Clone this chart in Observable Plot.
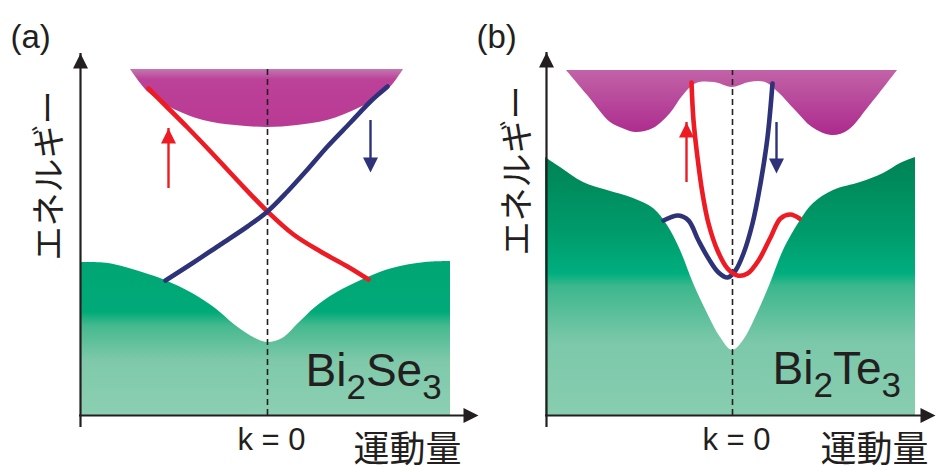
<!DOCTYPE html>
<html>
<head>
<meta charset="utf-8">
<script src="https://cdn.jsdelivr.net/npm/d3@7"></script>
<script src="https://cdn.jsdelivr.net/npm/@observablehq/plot@0.6"></script>
<style>
  body { margin: 0; background: #fff; }
  #fig { position: relative; width: 936px; height: 466px; overflow: hidden; background: #fff; }
  #fig svg { position: absolute; top: 0; }
</style>
</head>
<body>
<div id="fig"></div>
<script>
// ---------- common styling ----------
const INK = "#231f20";
const RED = "#ed1c24";
const BLUE = "#2e3279";
const LATIN = "'Liberation Sans', Arial, Helvetica, sans-serif";
const CJK = "'Noto Sans CJK JP', sans-serif";

// ---------- panel (a): Bi2Se3 ----------
// conduction band: lower edge (k, E); filled up to cbA_top
const cbA_k = [-1.37, -1.19, -0.97, -0.64, -0.32, 0, 0.30, 0.60, 0.93, 1.20, 1.36];
const cbA_E = [3.46, 3.23, 3.08, 2.95, 2.90, 2.88, 2.90, 2.95, 3.08, 3.25, 3.46];
const cbA_top = 3.46;
// valence band: upper edge, filled down to E = 0
const vbA_k = [-1.87, -1.59, -1.25, -1.02, -0.75, -0.52, -0.32, -0.12, 0, 0.15, 0.31, 0.48, 0.68, 0.98, 1.25, 1.58, 1.83];
const vbA_E = [1.53, 1.52, 1.43, 1.35, 1.22, 1.07, 0.90, 0.77, 0.73, 0.77, 0.92, 1.08, 1.22, 1.37, 1.47, 1.53, 1.54];
// surface Dirac cone: spin-up (red) and spin-down (blue) branches
const redA_k = [-1.19, -1.04, -0.80, -0.57, -0.30, 0, 0.26, 0.53, 0.80, 1.01];
const redA_E = [3.27, 3.12, 2.88, 2.64, 2.35, 2.04, 1.81, 1.64, 1.49, 1.36];
const blueA_k = [-1.02, -0.74, -0.47, -0.20, 0, 0.20, 0.40, 0.60, 0.83, 1.03, 1.20];
const blueA_E = [1.35, 1.53, 1.71, 1.89, 2.04, 2.24, 2.46, 2.69, 2.93, 3.14, 3.29];
// spin arrows: [k, tail E, head E]
const spinUpA = [-0.99, 2.37, 2.87];
const spinDownA = [1.03, 2.95, 2.43];

// ---------- panel (b): Bi2Te3 ----------
const cbB_k = [-1.66, -1.44, -1.22, -1.10, -0.97, -0.79, -0.62, -0.50, -0.36, -0.18, 0, 0.17, 0.33, 0.46, 0.63, 0.80, 1.00, 1.16, 1.36, 1.65];
const cbB_E = [3.45, 3.19, 2.93, 2.87, 2.83, 2.87, 3.02, 3.19, 3.32, 3.33, 3.28, 3.33, 3.33, 3.23, 3.05, 2.88, 2.80, 2.85, 3.08, 3.45];
const cbB_top = 3.45;
const vbB_k = [-1.87, -1.72, -1.49, -1.25, -0.99, -0.79, -0.65, -0.52, -0.39, -0.25, -0.12, 0, 0.11, 0.25, 0.38, 0.51, 0.68, 0.81, 1.01, 1.28, 1.51, 1.68, 1.83];
const vbB_E = [2.58, 2.48, 2.33, 2.25, 2.17, 2.07, 1.90, 1.65, 1.32, 1.02, 0.78, 0.65, 0.75, 1.02, 1.32, 1.65, 1.95, 2.12, 2.25, 2.33, 2.42, 2.52, 2.58];
const redB_k = [-0.41, -0.39, -0.35, -0.30, -0.24, -0.15, -0.05, 0.05, 0.15, 0.26, 0.38, 0.48, 0.58, 0.67];
const redB_E = [3.33, 2.95, 2.58, 2.22, 1.92, 1.65, 1.47, 1.40, 1.42, 1.55, 1.78, 1.97, 2.01, 1.97];
const blueB_k = [-0.69, -0.54, -0.44, -0.34, -0.24, -0.14, -0.05, 0.03, 0.11, 0.20, 0.28, 0.35, 0.40];
const blueB_E = [1.95, 2.00, 1.95, 1.75, 1.57, 1.43, 1.38, 1.45, 1.62, 1.92, 2.32, 2.78, 3.32];
const spinUpB = [-0.46, 2.43, 2.93];
const spinDownB = [0.44, 2.93, 2.42];

// ---------- labels ----------
const tagA = "(a)", tagB = "(b)";
const energyLabel = "エネルギー";
const momentumLabel = "運動量";
const gammaLabel = "k = 0";
const formulaA = [["Bi", false], ["2", true], ["Se", false], ["3", true]];
const formulaB = [["Bi", false], ["2", true], ["Te", false], ["3", true]];

// axis geometry in (k, E) units: axis position, top of energy arrow, end of momentum arrow
const axisA = {k0: -1.87, Etop: 3.62, kEnd: 2.11};
const axisB = {k0: -1.86, Etop: 3.63, kEnd: 2.03};

const zip = (ks, Es) => ks.map((k, i) => ({k, E: Es[i]}));

// filled triangular arrowheads; the tip sits at the dot's anchor point
function head(dir, len, half) {
  return {
    draw(c) {
      c.moveTo(0, 0);
      if (dir === "up") { c.lineTo(-half, len); c.lineTo(half, len); }
      else if (dir === "down") { c.lineTo(-half, -len); c.lineTo(half, -len); }
      else { c.lineTo(-len, -half); c.lineTo(-len, half); }
      c.closePath();
    }
  };
}

function spinArrow([k, E0, E1], color) {
  const up = E1 > E0;
  return [
    Plot.ruleX([{k, E0, E1}], {x: "k", y1: "E0", y2: "E1", stroke: color, strokeWidth: 2.4,
      insetTop: up ? 10 : 0, insetBottom: up ? 0 : 10}),
    Plot.dot([{k, E: E1}], {x: "k", y: "E", r: 5, symbol: head(up ? "up" : "down", 15, 7.5), fill: color, stroke: "none"})
  ];
}

function panel(p) {
  const cb = zip(p.cbK, p.cbE);
  const vb = zip(p.vbK, p.vbE);
  const red = Plot.line(zip(p.redK, p.redE), {x: "k", y: "E", stroke: RED, strokeWidth: 4.6, curve: "catmull-rom"});
  const blue = Plot.line(zip(p.blueK, p.blueE), {x: "k", y: "E", stroke: BLUE, strokeWidth: 4.6, curve: "catmull-rom"});
  const chart = Plot.plot({
    width: 471,
    height: 466,
    margin: 0,
    x: {domain: [-2.67, 2.04], axis: null},
    y: {domain: [-0.51, 4.15], axis: null},
    style: {background: "transparent", overflow: "visible", fontFamily: LATIN},
    marks: [
      Plot.areaY(cb, {x: "k", y1: "E", y2: p.cbTop, fill: `url(#${p.id}-cb)`, curve: "catmull-rom"}),
      Plot.areaY(vb, {x: "k", y1: 0, y2: "E", fill: `url(#${p.id}-vb)`, curve: "catmull-rom"}),
      Plot.ruleX([0], {y1: 0, y2: p.cbTop, stroke: INK, strokeWidth: 1.6, strokeDasharray: "6,4"}),
      ...(p.redOnTop ? [blue, red] : [red, blue]),
      ...spinArrow(p.up, RED),
      ...spinArrow(p.down, BLUE),
      // energy axis
      Plot.ruleX([p.axis], {x: "k0", y1: 0, y2: "Etop", stroke: INK, strokeWidth: 2.2, insetTop: 12}),
      Plot.dot([p.axis], {x: "k0", y: "Etop", r: 5, symbol: head("up", 15, 7.5), fill: INK, stroke: "none"}),
      // momentum axis
      Plot.ruleY([p.axis], {y: 0, x1: "k0", x2: "kEnd", stroke: INK, strokeWidth: 2.2, insetRight: 12, insetLeft: -1}),
      Plot.dot([p.axis], {x: "kEnd", y: 0, r: 5, symbol: head("right", 15, 7.5), fill: INK, stroke: "none"}),
      // labels
      Plot.text([p.tag], {x: p.tagK, y: 3.78, textAnchor: "start", fontSize: 33, fill: INK}),
      Plot.text([energyLabel], {x: p.energyK, y: p.energyE, rotate: -90, fontSize: 34, fontFamily: CJK, fill: INK}),
      Plot.text([gammaLabel], {x: 0.04, y: -0.25, fontSize: 31, fill: INK}),
      Plot.text([momentumLabel], {x: p.momK, y: -0.345, fontSize: 36, fontFamily: CJK, fill: INK}),
      Plot.text([p.formula.map(d => d[0]).join("")], {x: p.formK, y: p.formE, textAnchor: "start", lineAnchor: "bottom", fontSize: 46, fill: INK})
    ]
  });

  // vertical gradients anchored to energy values
  const y = chart.scale("y").apply;
  const defs = d3.select(chart).insert("defs", ":first-child");
  const grad = (id, E0, E1, stops) => {
    const g = defs.append("linearGradient").attr("id", id).attr("gradientUnits", "userSpaceOnUse")
      .attr("x1", 0).attr("x2", 0).attr("y1", y(E0)).attr("y2", y(E1));
    for (const [o, c] of stops) g.append("stop").attr("offset", o).attr("stop-color", c);
  };
  grad(`${p.id}-cb`, p.cbTop, d3.min(p.cbE), p.cbStops);
  grad(`${p.id}-vb`, d3.max(p.vbE), 0, p.vbStops);

  // chemical formula with subscripts
  const name = p.formula.map(d => d[0]).join("");
  d3.select(chart).selectAll("text").filter(function () { return this.textContent === name; }).each(function () {
    const t = d3.select(this);
    t.text(null);
    let sub = false;
    for (const [s, isSub] of p.formula) {
      const ts = t.append("tspan").text(s);
      if (isSub !== sub) ts.attr("dy", isSub ? 13 : -13);
      if (isSub) ts.attr("font-size", 35);
      sub = isSub;
    }
  });
  return chart;
}

const fig = document.getElementById("fig");

const a = panel({
  id: "a", cbK: cbA_k, cbE: cbA_E, cbTop: cbA_top, vbK: vbA_k, vbE: vbA_E,
  redK: redA_k, redE: redA_E, blueK: blueA_k, blueE: blueA_E, redOnTop: false,
  up: spinUpA, down: spinDownA, axis: axisA,
  tag: tagA, tagK: -2.57, energyK: -2.17, energyE: 2.40, momK: 1.40,
  formula: formulaA, formK: 0.38, formE: 0.30,
  cbStops: [[0, "#c377b1"], [0.18, "#bc4198"], [1, "#b93a94"]],
  vbStops: [[0, "#00a674"], [0.33, "#00aa78"], [0.42, "#45b98f"], [0.65, "#7fc9aa"], [1, "#8ccfb3"]]
});
a.style.left = "0px";
fig.appendChild(a);

const b = panel({
  id: "b", cbK: cbB_k, cbE: cbB_E, cbTop: cbB_top, vbK: vbB_k, vbE: vbB_E,
  redK: redB_k, redE: redB_E, blueK: blueB_k, blueE: blueB_E, redOnTop: true,
  up: spinUpB, down: spinDownB, axis: axisB,
  tag: tagB, tagK: -2.56, energyK: -2.14, energyE: 2.45, momK: 1.42,
  formula: formulaB, formK: 0.40, formE: 0.32,
  cbStops: [[0, "#c263a7"], [1, "#ac2a8d"]],
  vbStops: [[0, "#008354"], [0.3, "#009c6c"], [0.45, "#00ae7e"], [0.5, "#3cb78d"], [0.72, "#7cc8aa"], [1, "#88cdb0"]]
});
b.style.left = "465px";
fig.appendChild(b);
</script>
</body>
</html>
